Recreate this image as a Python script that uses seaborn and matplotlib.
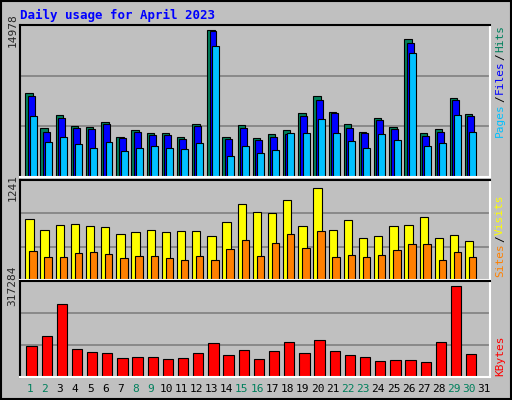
import numpy as np
import matplotlib
matplotlib.use("Agg")
import matplotlib.pyplot as plt
import seaborn as sns

sns.set_style("white")

# === Data ===
days = [str(d) for d in range(1, 32)]
weekend_days = [1, 2, 8, 9, 15, 16, 22, 23, 29, 30]
hits = [8558, 4992, 6317, 5196, 5094, 5604, 4075, 4788, 4483, 4483, 4075, 5400, 14978, 4075, 5298,
        3973, 4381, 4788, 6521, 8253, 6622, 5400, 4585, 6011, 5094, 14060, 4483, 4890, 8049, 6419, 0]
files = [8253, 4585, 6011, 4992, 4890, 5400, 3973, 4585, 4279, 4279, 3872, 5196, 14875, 3872, 4992,
         3770, 4075, 4381, 6215, 7845, 6521, 4992, 4483, 5807, 4890, 13652, 4177, 4585, 7845, 6215, 0]
pages = [6215, 3566, 4075, 3362, 2955, 3566, 2649, 2955, 3158, 2955, 2853, 3464, 13347, 2139, 3158,
         2445, 2751, 4483, 4483, 5909, 4483, 3668, 2955, 4381, 3770, 12633, 3158, 3464, 6317, 4585, 0]
visits = [823, 674, 742, 755, 728, 715, 620, 647, 674, 647, 661, 661, 593, 782, 1025,
          917, 904, 1079, 728, 1241, 674, 809, 566, 593, 728, 742, 850, 566, 607, 526, 0]
sites = [391, 310, 310, 364, 378, 351, 297, 324, 324, 297, 270, 324, 270, 418, 540,
         324, 499, 620, 432, 661, 310, 337, 310, 337, 405, 486, 486, 270, 378, 310, 0]
kbytes = [108852, 143592, 254760, 98430, 88008, 84534, 67164, 70638, 70638, 63690, 67164, 84534,
          119274, 77586, 94956, 63690, 91482, 122748, 84534, 129696, 91482, 77586, 70638, 56742,
          60216, 60216, 53268, 122748, 317284, 81060, 0]

BG = "#C0C0C0"
W, H = 512, 400
fig = plt.figure(figsize=(W / 100, H / 100), dpi=100, facecolor=BG)
mono = "DejaVu Sans Mono"

def px_axes(x0, y0, x1, y1):
    return fig.add_axes([x0 / W, 1 - y1 / H, (x1 - x0) / W, (y1 - y0) / H])

x = np.arange(len(days))

def style(ax, top, frac):
    ymax = top / frac
    ax.set_facecolor(BG)
    ax.set_xlim(-0.5, len(days) - 0.5)
    ax.set_ylim(0, ymax)
    for f in (1 / 3, 2 / 3):
        ax.axhline(ymax * f, color="#808080", lw=1.2, zorder=0)
    ax.set_xticks([])
    ax.set_yticks([top])
    ax.set_yticklabels([str(top)], rotation=90, va="center", fontsize=8, family=mono)
    ax.tick_params(axis="y", length=0, pad=2)
    for s in ax.spines.values():
        s.set_color("white")
        s.set_linewidth(1.5)
    ax.spines["top"].set_color("black")
    ax.spines["left"].set_color("black")

def bars(ax, vals, off, width, color):
    ax.bar(x + off, vals, width=width, align="edge", color=color, edgecolor="black", linewidth=0.8, zorder=2)

# --- Top: hits / files / pages ---
ax1 = px_axes(20, 25, 490, 177)
style(ax1, max(hits), 147 / 152)
bars(ax1, hits, -0.15, 0.49, "#00805C")
bars(ax1, files, 0.0, 0.46, "#0000FF")
bars(ax1, pages, 0.14, 0.46, "#00C0FF")

# --- Middle: visits / sites ---
ax2 = px_axes(20, 180, 490, 280)
style(ax2, max(visits), 92 / 100)
bars(ax2, visits, -0.15, 0.55, "#FFFF00")
bars(ax2, sites, 0.11, 0.49, "#FF8000")

# --- Bottom: kbytes ---
ax3 = px_axes(20, 281, 490, 377)
style(ax3, max(kbytes), 91 / 96)
bars(ax3, kbytes, -0.08, 0.68, "#FF0000")

# day labels
for i, d in enumerate(days):
    c = "#00805C" if int(d) in weekend_days else "black"
    fig.text((20 + 15.16 * (i + 0.5) + 2) / W, 1 - 389 / H, d, ha="center", va="center",
             fontsize=8, color=c, family=mono)

# title
fig.text(20 / W, 1 - 15 / H, "Daily usage for April 2023", color="#0000FF", fontsize=9,
         fontweight="bold", family=mono, va="center")

# right side labels, stacked bottom-up using measured text sizes
renderer = fig.canvas.get_renderer()

def side_label(parts, y_bottom):
    y = y_bottom
    for txt, col in parts:
        t = fig.text(500 / W, 1 - y / H, txt, rotation=90, color=col, fontsize=8, family=mono,
                     ha="center", va="bottom", rotation_mode="default")
        bb = t.get_window_extent(renderer)
        y -= bb.height + 1

side_label([("Pages", "#00C0FF"), ("/", "black"), ("Files", "#0000FF"), ("/", "black"),
            ("Hits", "#00805C")], 137)
side_label([("Sites", "#FF8000"), ("/", "black"), ("Visits", "#FFFF00")], 277)
side_label([("KBytes", "#FF0000")], 376)

# outer border
fig.patches.append(plt.Rectangle((0.002, 0.002), 0.996, 0.996, transform=fig.transFigure,
                                 fill=False, edgecolor="black", lw=1.5))

fig.savefig("out.png", dpi=100, facecolor=BG)
